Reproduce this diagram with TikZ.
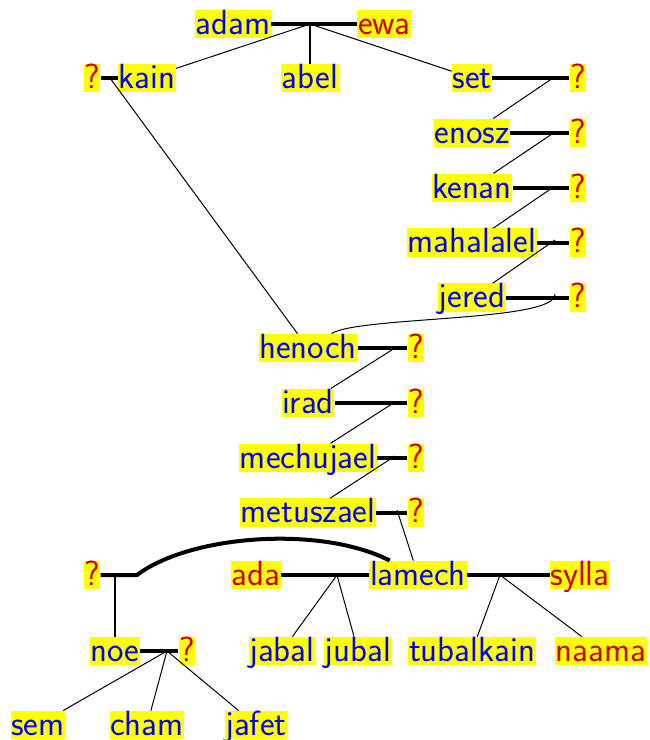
\documentclass[tikz,border=0pt]{standalone}
\usepackage{fontspec}
\usepackage{tikz}
\usetikzlibrary{positioning}
\definecolor{wifered}{RGB}{204,0,0}
\definecolor{namebox}{RGB}{255,255,0}

\begin{document}
\begin{tikzpicture}[
        x=1pt, y=-1pt,
        node distance=26pt,
        person/.style={
            rectangle,
            fill=namebox,
            inner xsep=0.6pt,
            inner ysep=0pt,
            text height=24.5pt,
            text depth=4pt,
            font=\sffamily\fontsize{35}{38}\selectfont
        },
        man/.style={person, text=blue},
        woman/.style={person, text=wifered},
        marriage/.style={line width=4pt},
        descent/.style={line width=1pt},
        straight/.style={line width=1.6pt}
    ]
    \useasboundingbox (0,0) rectangle (650,740);

    % Adam and Ewa (top)
    \node[man] (adam) at (233,24) {adam};
    \node[woman] (ewa) at (384,24) {ewa};

    % their sons
    \node[man] (kain) at (147,78) {kain};
    \node[woman] (qkain) at (92,78) {?};
    \node[man] (abel) at (310,78) {abel};
    \node[man] (set) at (472,78) {set};
    \node[woman] (qset) at (578,78) {?};

    % line of Set (right column)
    \node[man, below=of set] (enosz) {enosz};
    \node[man, below=of enosz] (kenan) {kenan};
    \node[man, below=of kenan] (mahalalel) {mahalalel};
    \node[man, below=of mahalalel] (jered) {jered};
    \node[woman] (qenosz) at (qset |- enosz) {?};
    \node[woman] (qkenan) at (qset |- kenan) {?};
    \node[woman] (qmahalalel) at (qset |- mahalalel) {?};
    \node[woman] (qjered) at (qset |- jered) {?};

    % line of Kain (middle column)
    \node[man] (henoch) at (308,348) {henoch};
    \node[man, below=of henoch] (irad) {irad};
    \node[man, below=of irad] (mechujael) {mechujael};
    \node[man, below=of mechujael] (metuszael) {metuszael};
    \node[woman] (qhenoch) at (416,348) {?};
    \node[woman] (qirad) at (qhenoch |- irad) {?};
    \node[woman] (qmechujael) at (qhenoch |- mechujael) {?};
    \node[woman] (qmetuszael) at (qhenoch |- metuszael) {?};

    % Lamech and his wives
    \node[woman] (qlamech) at (92,575) {?};
    \node[woman] (ada) at (256,575) {ada};
    \node[man] (lamech) at (418,575) {lamech};
    \node[woman] (sylla) at (580,575) {sylla};

    % next generation
    \node[man] (noe) at (115,651) {noe};
    \node[woman] (qnoe) at (187,651) {?};
    \node[man] (jabal) at (282,651) {jabal};
    \node[man] (jubal) at (358,651) {jubal};
    \node[man] (tubalkain) at (472,651) {tubalkain};
    \node[woman] (naama) at (601,651) {naama};

    % sons of Noe (bottom)
    \node[man] (sem) at (38,725) {sem};
    \node[man] (cham) at (147,725) {cham};
    \node[man] (jafet) at (256,725) {jafet};

    % marriage points
    \coordinate (m1) at (310,24);
    \coordinate (m2) at (110,78);
    \coordinate (m3) at (553,78);
    \coordinate (m4) at (555,132);
    \coordinate (m5) at (555,186);
    \coordinate (m6) at (555,240);
    \coordinate (m7) at (555,294);
    \coordinate (m8) at (395,348);
    \coordinate (m9) at (395,402);
    \coordinate (m10) at (395,456);
    \coordinate (m11) at (397,510);
    \coordinate (m12) at (337,575);
    \coordinate (m13) at (500,575);
    \coordinate (m14) at (115,575);
    \coordinate (m15) at (167,651);
    \coordinate (bend) at (137,575);

    % marriages
    \draw[marriage] (adam) -- (ewa);
    \draw[marriage] (qkain) -- (kain);
    \draw[marriage] (set) -- (qset);
    \draw[marriage] (enosz) -- (qenosz);
    \draw[marriage] (kenan) -- (qkenan);
    \draw[marriage] (mahalalel) -- (qmahalalel);
    \draw[marriage] (jered) -- (qjered);
    \draw[marriage] (henoch) -- (qhenoch);
    \draw[marriage] (irad) -- (qirad);
    \draw[marriage] (mechujael) -- (qmechujael);
    \draw[marriage] (metuszael) -- (qmetuszael);
    \draw[marriage] (ada) -- (lamech);
    \draw[marriage] (lamech) -- (sylla);
    \draw[marriage] (qlamech) -- (bend) .. controls (190,535) and (320,525) .. (lamech);
    \draw[marriage] (noe) -- (qnoe);

    % descent
    \draw[straight] (m1) -- (abel);
    \draw[descent] (m1) -- (kain);
    \draw[descent] (m1) -- (set);
    \draw[descent] (m2) -- (henoch);
    \draw[descent] (m3) -- (enosz);
    \draw[descent] (m4) -- (kenan);
    \draw[descent] (m5) -- (mahalalel);
    \draw[descent] (m6) -- (jered);
    \draw[descent] (m7) .. controls (557,322) and (360,316) .. (henoch);
    \draw[descent] (m8) -- (irad);
    \draw[descent] (m9) -- (mechujael);
    \draw[descent] (m10) -- (metuszael);
    \draw[descent] (m11) -- (lamech);
    \draw[descent] (m12) -- (jabal);
    \draw[descent] (m12) -- (jubal);
    \draw[descent] (m13) -- (tubalkain);
    \draw[descent] (m13) -- (naama);
    \draw[straight] (m14) -- (noe);
    \draw[descent] (m15) -- (sem);
    \draw[descent] (m15) -- (cham);
    \draw[descent] (m15) -- (jafet);

\end{tikzpicture}
\end{document}
